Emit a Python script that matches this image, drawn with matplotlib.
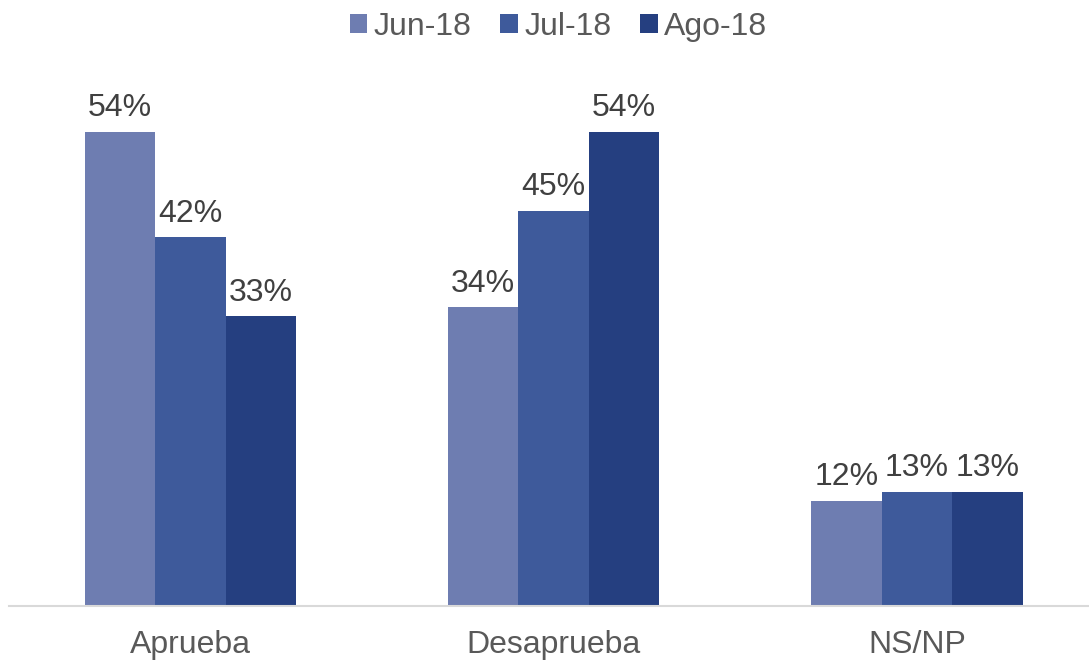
import matplotlib
matplotlib.use("Agg")
import matplotlib.pyplot as plt
import numpy as np

categories = ["Aprueba", "Desaprueba", "NS/NP"]
series_names = ["Jun-18", "Jul-18", "Ago-18"]
jun = [54, 34, 12]
jul = [42, 45, 13]
ago = [33, 54, 13]
colors = ["#6E7DB1", "#3E5A9B", "#253F80"]

plt.rcParams['font.family'] = ['Liberation Sans', 'DejaVu Sans']

fig = plt.figure(figsize=(10.89, 6.63), dpi=100)
ax = fig.add_axes([9/1089, 57/663, 1 - 9/1089, 527/663])

x = np.arange(len(categories))
bw = 0.194
for i, (vals, name, c) in enumerate(zip([jun, jul, ago], series_names, colors)):
    pos = x + (i - 1) * bw
    bars = ax.bar(pos, vals, width=bw, color=c, label=name, linewidth=0)
    for b, v in zip(bars, vals):
        ax.annotate(f"{v}%", (b.get_x() + b.get_width() / 2, v),
                    xytext=(0, 6), textcoords="offset points",
                    ha="center", va="bottom", fontsize=23, color="#404040")

ax.set_xlim(-0.5, 2.474)
ax.set_ylim(0, 60)
ax.set_xticks(x)
ax.set_xticklabels(categories, fontsize=23, color="#595959")
ax.tick_params(axis='x', length=0, pad=17)
ax.set_yticks([])
for s in ["top", "right", "left"]:
    ax.spines[s].set_visible(False)
ax.spines["bottom"].set_color("#D9D9D9")
ax.spines["bottom"].set_linewidth(1.5)

fig.legend(loc="upper center", bbox_to_anchor=(0.513, 1.025), ncol=3, frameon=False,
           fontsize=23, handlelength=0.55, handleheight=0.55, handletextpad=0.2,
           columnspacing=0.9, labelcolor="#595959")

fig.savefig("out.png", dpi=100)
